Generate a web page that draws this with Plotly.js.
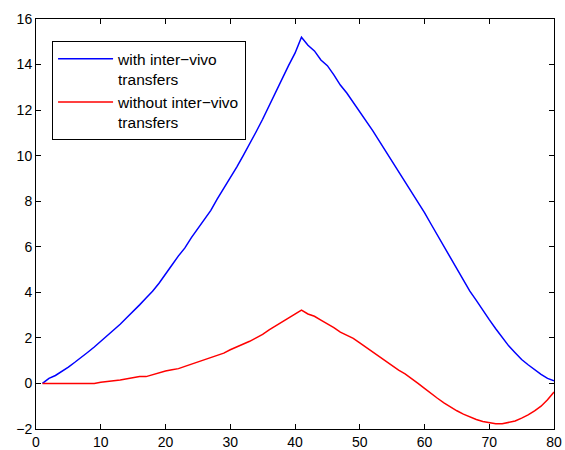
<!DOCTYPE html>
<html>
<head>
<meta charset="utf-8">
<script src="https://cdn.plot.ly/plotly-3.0.1.min.js"></script>
<style>html,body{margin:0;padding:0;background:#fff;}#chart{width:565px;height:450px;}</style>
</head>
<body>
<div id="chart"></div>
<script>
const ages = [];
for (let i = 1; i <= 80; i++) ages.push(i);

const withTransfers = [
  0, 0.22, 0.35, 0.52, 0.72, 0.93, 1.17, 1.37, 1.6, 1.85,
  2.08, 2.32, 2.6, 2.88, 3.15, 3.45, 3.75, 4.05, 4.4, 4.78,
  5.2, 5.6, 5.95, 6.4, 6.8, 7.15, 7.6, 8.1, 8.55, 9.05,
  9.5, 10.0, 10.5, 11.05, 11.6, 12.2, 12.75, 13.35, 13.95, 14.5,
  15.2, 14.85, 14.6, 14.2, 13.95, 13.55, 13.1, 12.75, 12.35, 11.95,
  11.5, 11.1, 10.65, 10.2, 9.8, 9.3, 8.9, 8.45, 7.95, 7.5,
  7.0, 6.5, 6.0, 5.5, 5.0, 4.5, 4.05, 3.65, 3.2, 2.8,
  2.4, 2.0, 1.65, 1.35, 1.05, 0.82, 0.6, 0.4, 0.22, 0.12
];

const withoutTransfers = [
  0, 0, 0, 0, 0, 0, 0, 0, 0, 0.05,
  0.07, 0.12, 0.15, 0.2, 0.25, 0.3, 0.3, 0.38, 0.48, 0.55,
  0.6, 0.65, 0.75, 0.85, 0.93, 1.02, 1.12, 1.22, 1.33, 1.48,
  1.6, 1.75, 1.85, 2.0, 2.15, 2.35, 2.52, 2.68, 2.85, 3.05,
  3.22, 3.05, 2.95, 2.78, 2.62, 2.45, 2.25, 2.12, 1.98, 1.78,
  1.58, 1.42, 1.2, 0.98, 0.78, 0.58, 0.42, 0.22, 0.0, -0.22,
  -0.45, -0.65, -0.85, -1.03, -1.2, -1.35, -1.48, -1.58, -1.67, -1.73,
  -1.77, -1.77, -1.72, -1.65, -1.52, -1.38, -1.2, -1.0, -0.72, -0.38
];

const seriesNames = ["with inter\u2212vivo<br>transfers", "without inter\u2212vivo<br>transfers"];

const traces = [
  {x: ages, y: withTransfers, mode: 'lines', name: seriesNames[0], legendgroup: 'a', line: {color: '#0000ff', width: 1.5}},
  {x: ages, y: withoutTransfers, mode: 'lines', name: seriesNames[1], legendgroup: 'b', line: {color: '#ff0000', width: 1.5}}
];

const axisCommon = {
  showline: true, linecolor: '#000', linewidth: 1, mirror: 'ticks',
  ticks: 'inside', ticklen: 5, tickcolor: '#000', tickwidth: 1,
  showgrid: false, zeroline: false,
  tickfont: {family: 'Liberation Sans, Arial, sans-serif', size: 14, color: '#000'}
};

const layout = {
  width: 565, height: 450,
  margin: {l: 36, r: 11, t: 19, b: 21},
  paper_bgcolor: '#fff', plot_bgcolor: '#fff',
  xaxis: Object.assign({}, axisCommon, {range: [0, 80], dtick: 10, tick0: 0}),
  yaxis: Object.assign({}, axisCommon, {range: [-2, 16], dtick: 2, tick0: 0}),
  showlegend: true,
  legend: {
    x: 0.031, y: 0.946, xanchor: 'left', yanchor: 'top',
    bordercolor: '#000', borderwidth: 1, bgcolor: '#fff',
    font: {family: 'Liberation Sans, Arial, sans-serif', size: 15.5, color: '#000'},
    itemwidth: 55, tracegroupgap: 0, valign: 'top'
  }
};

Plotly.newPlot('chart', traces, layout, {displayModeBar: false, staticPlot: true});
</script>
</body>
</html>
